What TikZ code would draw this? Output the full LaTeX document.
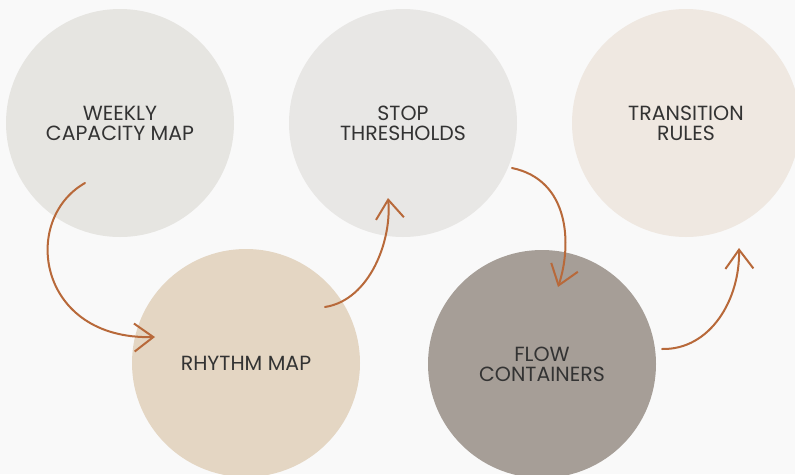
\documentclass[tikz,border=0pt]{standalone}
\usepackage{fontspec}
\setmainfont{Poppins}
\usetikzlibrary{arrows.meta}
\definecolor{bg}{HTML}{F9F9F9}
\definecolor{cA}{HTML}{E6E5E1}
\definecolor{cB}{HTML}{E8E7E5}
\definecolor{cC}{HTML}{EFE8E1}
\definecolor{cD}{HTML}{E4D6C3}
\definecolor{cE}{HTML}{A69E97}
\definecolor{arr}{HTML}{B8693A}
\definecolor{txt}{HTML}{333333}
\tikzset{
  blob/.style={circle, minimum size=228pt, inner sep=0pt, text=txt, align=center,
    font=\fontsize{20.5}{20}\selectfont},
  flowarrow/.style={draw=arr, line width=2pt, line cap=round,
    -{Straight Barb[length=19pt, width=28pt, line width=2pt]}}
}
\begin{document}
\begin{tikzpicture}[x=1pt, y=-1pt]
\fill[bg] (0,0) rectangle (795,474);
\useasboundingbox (0,0) rectangle (795,474);
\node[blob, fill=cA] (weekly) at (120,123) {WEEKLY\\CAPACITY MAP};
\node[blob, fill=cB] (stop) at (403,123) {STOP\\THRESHOLDS};
\node[blob, fill=cC] (trans) at (686,123) {TRANSITION\\RULES};
\node[blob, fill=cD] (rhythm) at (246,363) {RHYTHM MAP};
\node[blob, fill=cE] (flow) at (542,364) {FLOW\\CONTAINERS};
\coordinate (a1s) at (85,183);
\coordinate (a1e) at (155,337);
\coordinate (a2s) at (325,307);
\coordinate (a2e) at (388,198);
\coordinate (a3s) at (512,168);
\coordinate (a3e) at (558,287);
\coordinate (a4s) at (662,349);
\coordinate (a4e) at (739,248);
\draw[flowarrow] (a1s) .. controls (20,220) and (38,340) .. (a1e);
\draw[flowarrow] (a2s) .. controls (370,300) and (392,240) .. (a2e);
\draw[flowarrow] (a3s) .. controls (570,180) and (572,245) .. (a3e);
\draw[flowarrow] (a4s) .. controls (710,350) and (740,300) .. (a4e);
\end{tikzpicture}
\end{document}
